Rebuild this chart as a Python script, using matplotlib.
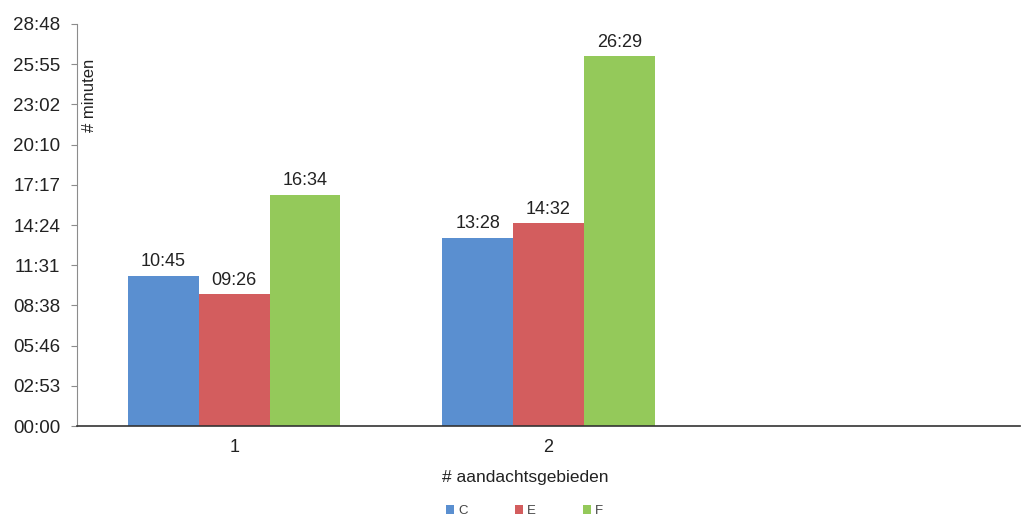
import numpy as np
import matplotlib.pyplot as plt
from matplotlib.ticker import FuncFormatter, MultipleLocator

plt.rcParams["font.family"] = ["Liberation Sans", "DejaVu Sans"]

categories = ["1", "2", ""]
series = ["C", "E", "F"]
# durations as mm:ss per series, one entry per category (third category empty)
times_c = ["10:45", "13:28"]
times_e = ["09:26", "14:32"]
times_f = ["16:34", "26:29"]

colors = ["#5A8FD0", "#D35D5E", "#94C95A"]


def to_seconds(t):
    m, s = t.split(":")
    return int(m) * 60 + int(s)


def mmss(v, pos=None):
    v = int(round(v))
    return f"{v // 60:02d}:{v % 60:02d}"


fig = plt.figure(figsize=(10.25, 5.15), dpi=100)
ax = fig.add_axes([0.0751, 0.1728, 0.9200, 0.7806])

x = np.arange(1, len(categories) + 1)
width = 0.225

for i, (name, times) in enumerate(zip(series, [times_c, times_e, times_f])):
    vals = [to_seconds(t) for t in times]
    xs = x[:len(vals)] + (i - 1) * width
    bars = ax.bar(xs, vals, width=width, color=colors[i], label=name, zorder=2)
    for b, t in zip(bars, times):
        ax.annotate(t, (b.get_x() + b.get_width() / 2, b.get_height()),
                    xytext=(0, 4), textcoords="offset points",
                    ha="center", va="bottom", fontsize=13, color="#222222")

ax.set_xlim(0.5, 3.5)
ax.set_ylim(0, 1728)
ax.yaxis.set_major_locator(MultipleLocator(172.8))
ax.yaxis.set_major_formatter(FuncFormatter(mmss))
ax.set_xticks(x)
ax.set_xticklabels(categories)

for s in ["top", "right"]:
    ax.spines[s].set_visible(False)
ax.spines["left"].set_color("#8c8c8c")
ax.spines["bottom"].set_color("#333333")
ax.spines["bottom"].set_linewidth(1.2)
ax.tick_params(axis="y", length=4, color="#8c8c8c", labelsize=13.5, pad=8, labelcolor="#222222")
ax.tick_params(axis="x", length=0, labelsize=13, pad=9, labelcolor="#222222")

ax.text(0.005, 0.823, "# minuten", rotation=90, transform=ax.transAxes,
        ha="left", va="center", fontsize=12, color="#222222")
ax.set_xlabel("# aandachtsgebieden", fontsize=12.5, color="#222222")
ax.xaxis.set_label_coords(0.475, -0.11)

ax.legend(loc="upper center", bbox_to_anchor=(0.475, -0.18), ncol=3, frameon=False,
          fontsize=9.5, handlelength=0.6, handleheight=0.6, columnspacing=3.6,
          handletextpad=0.3, borderpad=0, labelcolor="#444444")

fig.savefig("out.png", dpi=100)
